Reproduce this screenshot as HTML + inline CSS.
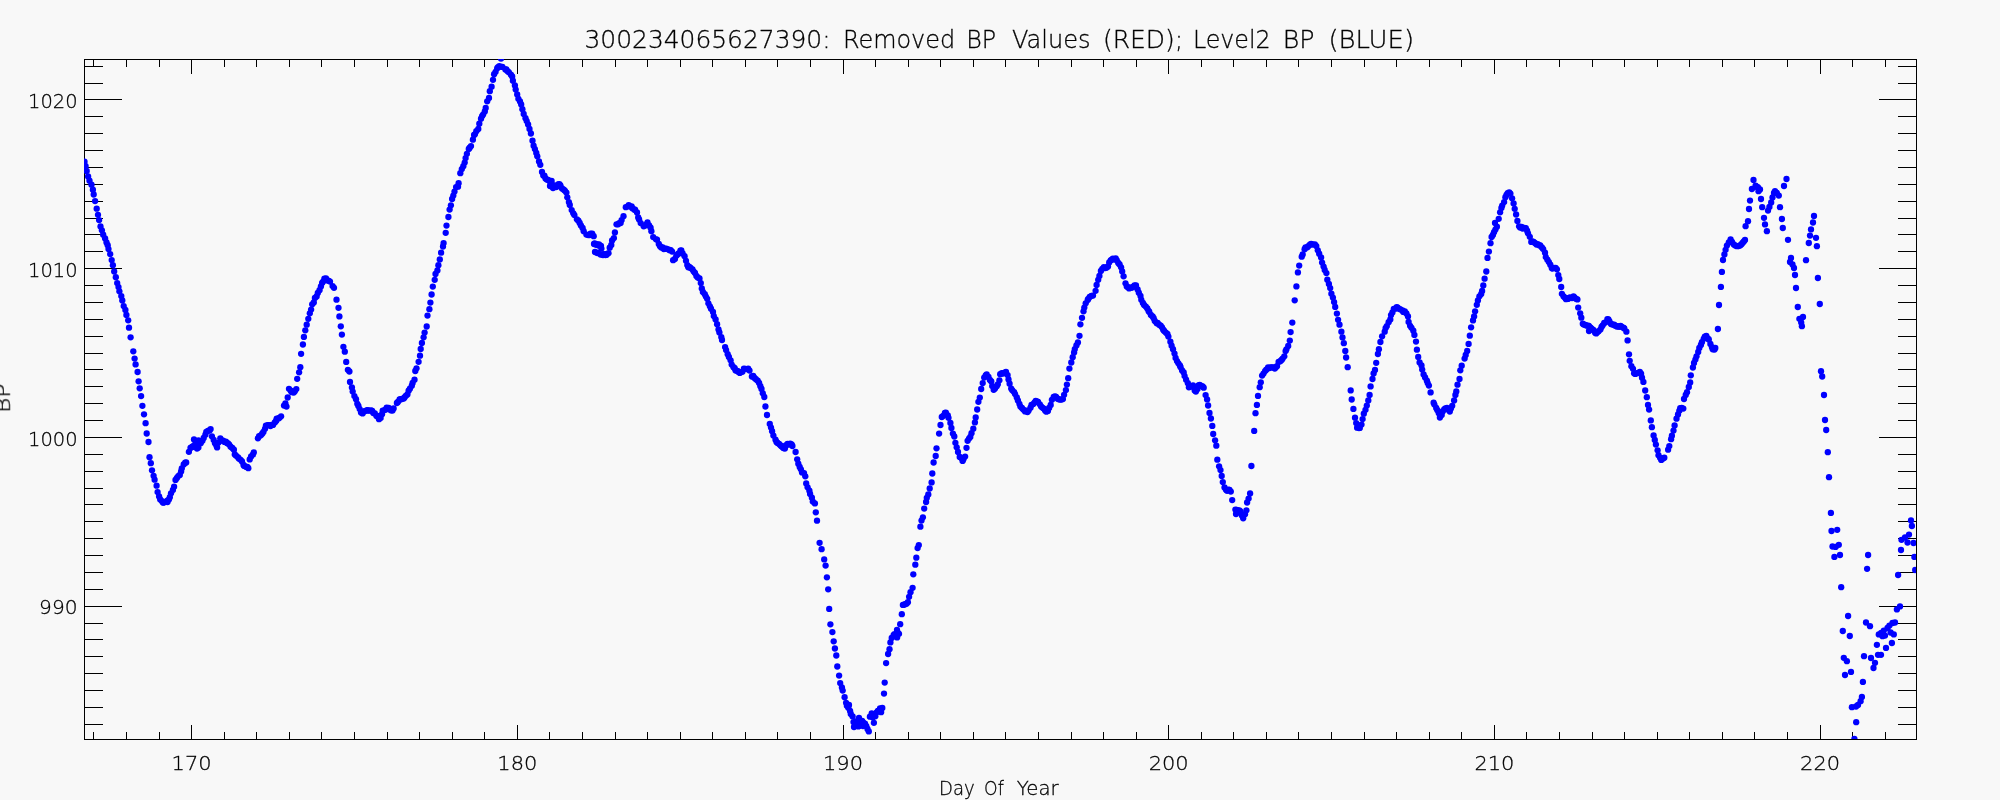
<!DOCTYPE html>
<html lang="en"><head><meta charset="utf-8"><title>300234065627390: Removed BP Values (RED); Level2 BP (BLUE)</title>
<style>
html,body{margin:0;padding:0;background:#f8f8f8;}
body{width:2000px;height:800px;overflow:hidden;}
svg{display:block;}
text{font-family:"DejaVu Sans","Liberation Sans",sans-serif;font-weight:200;fill:#000;stroke:#000;stroke-width:0.3px;}
.ax{stroke:#000;stroke-width:1;shape-rendering:crispEdges;fill:none;}
.d circle{fill:#0000ff;}
</style></head><body>
<svg width="2000" height="800" viewBox="0 0 2000 800">
<rect x="0" y="0" width="2000" height="800" fill="#f8f8f8"/>
<defs><clipPath id="c"><rect x="84" y="59" width="1832" height="680"/></clipPath></defs>
<path class="ax" d="M84.5 59.5H1916.5V739.5H84.5ZM93.5 740.0v-8M93.5 59.0v8M126.5 740.0v-8M126.5 59.0v8M159.5 740.0v-8M159.5 59.0v8M191.5 740.0v-15M191.5 59.0v15M224.5 740.0v-8M224.5 59.0v8M256.5 740.0v-8M256.5 59.0v8M289.5 740.0v-8M289.5 59.0v8M321.5 740.0v-8M321.5 59.0v8M354.5 740.0v-8M354.5 59.0v8M387.5 740.0v-8M387.5 59.0v8M419.5 740.0v-8M419.5 59.0v8M452.5 740.0v-8M452.5 59.0v8M484.5 740.0v-8M484.5 59.0v8M517.5 740.0v-15M517.5 59.0v15M549.5 740.0v-8M549.5 59.0v8M582.5 740.0v-8M582.5 59.0v8M615.5 740.0v-8M615.5 59.0v8M647.5 740.0v-8M647.5 59.0v8M680.5 740.0v-8M680.5 59.0v8M712.5 740.0v-8M712.5 59.0v8M745.5 740.0v-8M745.5 59.0v8M777.5 740.0v-8M777.5 59.0v8M810.5 740.0v-8M810.5 59.0v8M843.5 740.0v-15M843.5 59.0v15M875.5 740.0v-8M875.5 59.0v8M908.5 740.0v-8M908.5 59.0v8M940.5 740.0v-8M940.5 59.0v8M973.5 740.0v-8M973.5 59.0v8M1005.5 740.0v-8M1005.5 59.0v8M1038.5 740.0v-8M1038.5 59.0v8M1071.5 740.0v-8M1071.5 59.0v8M1103.5 740.0v-8M1103.5 59.0v8M1136.5 740.0v-8M1136.5 59.0v8M1168.5 740.0v-15M1168.5 59.0v15M1201.5 740.0v-8M1201.5 59.0v8M1233.5 740.0v-8M1233.5 59.0v8M1266.5 740.0v-8M1266.5 59.0v8M1298.5 740.0v-8M1298.5 59.0v8M1331.5 740.0v-8M1331.5 59.0v8M1364.5 740.0v-8M1364.5 59.0v8M1396.5 740.0v-8M1396.5 59.0v8M1429.5 740.0v-8M1429.5 59.0v8M1461.5 740.0v-8M1461.5 59.0v8M1494.5 740.0v-15M1494.5 59.0v15M1526.5 740.0v-8M1526.5 59.0v8M1559.5 740.0v-8M1559.5 59.0v8M1592.5 740.0v-8M1592.5 59.0v8M1624.5 740.0v-8M1624.5 59.0v8M1657.5 740.0v-8M1657.5 59.0v8M1689.5 740.0v-8M1689.5 59.0v8M1722.5 740.0v-8M1722.5 59.0v8M1754.5 740.0v-8M1754.5 59.0v8M1787.5 740.0v-8M1787.5 59.0v8M1820.5 740.0v-15M1820.5 59.0v15M1852.5 740.0v-8M1852.5 59.0v8M1885.5 740.0v-8M1885.5 59.0v8M84.0 724.5h19M1917.0 724.5h-19M84.0 707.5h19M1917.0 707.5h-19M84.0 690.5h19M1917.0 690.5h-19M84.0 673.5h19M1917.0 673.5h-19M84.0 656.5h19M1917.0 656.5h-19M84.0 639.5h19M1917.0 639.5h-19M84.0 623.5h19M1917.0 623.5h-19M84.0 606.5h38M1917.0 606.5h-38M84.0 589.5h19M1917.0 589.5h-19M84.0 572.5h19M1917.0 572.5h-19M84.0 555.5h19M1917.0 555.5h-19M84.0 538.5h19M1917.0 538.5h-19M84.0 521.5h19M1917.0 521.5h-19M84.0 504.5h19M1917.0 504.5h-19M84.0 488.5h19M1917.0 488.5h-19M84.0 471.5h19M1917.0 471.5h-19M84.0 454.5h19M1917.0 454.5h-19M84.0 437.5h38M1917.0 437.5h-38M84.0 420.5h19M1917.0 420.5h-19M84.0 403.5h19M1917.0 403.5h-19M84.0 386.5h19M1917.0 386.5h-19M84.0 369.5h19M1917.0 369.5h-19M84.0 353.5h19M1917.0 353.5h-19M84.0 336.5h19M1917.0 336.5h-19M84.0 319.5h19M1917.0 319.5h-19M84.0 302.5h19M1917.0 302.5h-19M84.0 285.5h19M1917.0 285.5h-19M84.0 268.5h38M1917.0 268.5h-38M84.0 251.5h19M1917.0 251.5h-19M84.0 234.5h19M1917.0 234.5h-19M84.0 218.5h19M1917.0 218.5h-19M84.0 201.5h19M1917.0 201.5h-19M84.0 184.5h19M1917.0 184.5h-19M84.0 167.5h19M1917.0 167.5h-19M84.0 150.5h19M1917.0 150.5h-19M84.0 133.5h19M1917.0 133.5h-19M84.0 116.5h19M1917.0 116.5h-19M84.0 99.5h38M1917.0 99.5h-38M84.0 83.5h19M1917.0 83.5h-19M84.0 66.5h19M1917.0 66.5h-19"/>
<g class="d" clip-path="url(#c)">
<circle cx="84.5" cy="161.7" r="3.15"/>
<circle cx="85.6" cy="166.1" r="3.15"/>
<circle cx="86.7" cy="171.0" r="3.15"/>
<circle cx="88.1" cy="176.4" r="3.15"/>
<circle cx="89.5" cy="180.7" r="3.15"/>
<circle cx="91.5" cy="184.7" r="3.15"/>
<circle cx="92.9" cy="189.7" r="3.15"/>
<circle cx="93.7" cy="194.5" r="3.15"/>
<circle cx="95.1" cy="201.1" r="3.15"/>
<circle cx="96.7" cy="208.7" r="3.15"/>
<circle cx="98.0" cy="214.8" r="3.15"/>
<circle cx="99.1" cy="220.1" r="3.15"/>
<circle cx="100.5" cy="226.4" r="3.15"/>
<circle cx="101.9" cy="230.3" r="3.15"/>
<circle cx="103.2" cy="234.7" r="3.15"/>
<circle cx="105.1" cy="238.4" r="3.15"/>
<circle cx="106.5" cy="242.5" r="3.15"/>
<circle cx="107.7" cy="245.2" r="3.15"/>
<circle cx="108.5" cy="249.1" r="3.15"/>
<circle cx="110.2" cy="254.1" r="3.15"/>
<circle cx="111.7" cy="260.1" r="3.15"/>
<circle cx="112.9" cy="265.2" r="3.15"/>
<circle cx="114.2" cy="271.5" r="3.15"/>
<circle cx="115.8" cy="277.2" r="3.15"/>
<circle cx="117.2" cy="283.1" r="3.15"/>
<circle cx="118.5" cy="287.1" r="3.15"/>
<circle cx="119.4" cy="291.3" r="3.15"/>
<circle cx="121.3" cy="296.1" r="3.15"/>
<circle cx="122.3" cy="300.5" r="3.15"/>
<circle cx="123.7" cy="306.1" r="3.15"/>
<circle cx="125.4" cy="310.0" r="3.15"/>
<circle cx="126.4" cy="314.9" r="3.15"/>
<circle cx="128.2" cy="320.3" r="3.15"/>
<circle cx="129.0" cy="327.7" r="3.15"/>
<circle cx="130.6" cy="337.3" r="3.15"/>
<circle cx="133.3" cy="351.3" r="3.15"/>
<circle cx="134.6" cy="358.6" r="3.15"/>
<circle cx="135.6" cy="364.4" r="3.15"/>
<circle cx="137.6" cy="372.0" r="3.15"/>
<circle cx="138.6" cy="381.3" r="3.15"/>
<circle cx="139.7" cy="388.3" r="3.15"/>
<circle cx="141.1" cy="396.1" r="3.15"/>
<circle cx="142.4" cy="405.8" r="3.15"/>
<circle cx="144.0" cy="414.3" r="3.15"/>
<circle cx="145.6" cy="423.2" r="3.15"/>
<circle cx="146.7" cy="433.5" r="3.15"/>
<circle cx="148.5" cy="442.0" r="3.15"/>
<circle cx="149.5" cy="457.2" r="3.15"/>
<circle cx="150.8" cy="463.2" r="3.15"/>
<circle cx="152.0" cy="470.3" r="3.15"/>
<circle cx="153.6" cy="475.8" r="3.15"/>
<circle cx="154.6" cy="479.7" r="3.15"/>
<circle cx="156.6" cy="485.7" r="3.15"/>
<circle cx="157.6" cy="492.1" r="3.15"/>
<circle cx="159.1" cy="496.5" r="3.15"/>
<circle cx="160.2" cy="499.4" r="3.15"/>
<circle cx="162.0" cy="501.2" r="3.15"/>
<circle cx="163.3" cy="502.4" r="3.15"/>
<circle cx="164.4" cy="502.3" r="3.15"/>
<circle cx="167.3" cy="500.6" r="3.15"/>
<circle cx="168.9" cy="499.6" r="3.15"/>
<circle cx="169.8" cy="497.2" r="3.15"/>
<circle cx="171.0" cy="493.3" r="3.15"/>
<circle cx="172.9" cy="489.9" r="3.15"/>
<circle cx="174.1" cy="486.7" r="3.15"/>
<circle cx="175.5" cy="479.9" r="3.15"/>
<circle cx="176.9" cy="477.9" r="3.15"/>
<circle cx="178.3" cy="476.1" r="3.15"/>
<circle cx="179.8" cy="474.9" r="3.15"/>
<circle cx="181.1" cy="471.4" r="3.15"/>
<circle cx="181.8" cy="468.3" r="3.15"/>
<circle cx="183.7" cy="464.5" r="3.15"/>
<circle cx="185.2" cy="462.7" r="3.15"/>
<circle cx="186.2" cy="462.5" r="3.15"/>
<circle cx="188.9" cy="451.8" r="3.15"/>
<circle cx="190.5" cy="447.8" r="3.15"/>
<circle cx="191.4" cy="447.4" r="3.15"/>
<circle cx="193.0" cy="446.3" r="3.15"/>
<circle cx="194.0" cy="446.0" r="3.15"/>
<circle cx="195.6" cy="441.7" r="3.15"/>
<circle cx="197.0" cy="442.2" r="3.15"/>
<circle cx="198.4" cy="447.6" r="3.15"/>
<circle cx="200.7" cy="443.2" r="3.15"/>
<circle cx="202.4" cy="440.8" r="3.15"/>
<circle cx="203.7" cy="437.9" r="3.15"/>
<circle cx="205.4" cy="434.7" r="3.15"/>
<circle cx="206.3" cy="431.8" r="3.15"/>
<circle cx="207.9" cy="431.0" r="3.15"/>
<circle cx="209.6" cy="430.4" r="3.15"/>
<circle cx="210.6" cy="429.1" r="3.15"/>
<circle cx="211.9" cy="436.3" r="3.15"/>
<circle cx="213.7" cy="440.0" r="3.15"/>
<circle cx="215.0" cy="443.3" r="3.15"/>
<circle cx="216.4" cy="445.4" r="3.15"/>
<circle cx="217.1" cy="447.4" r="3.15"/>
<circle cx="218.5" cy="442.6" r="3.15"/>
<circle cx="220.3" cy="438.3" r="3.15"/>
<circle cx="221.6" cy="440.4" r="3.15"/>
<circle cx="223.1" cy="440.7" r="3.15"/>
<circle cx="224.5" cy="441.9" r="3.15"/>
<circle cx="225.9" cy="441.6" r="3.15"/>
<circle cx="226.8" cy="443.0" r="3.15"/>
<circle cx="228.0" cy="443.3" r="3.15"/>
<circle cx="229.2" cy="444.6" r="3.15"/>
<circle cx="230.6" cy="446.7" r="3.15"/>
<circle cx="232.3" cy="447.9" r="3.15"/>
<circle cx="233.9" cy="449.7" r="3.15"/>
<circle cx="234.8" cy="454.4" r="3.15"/>
<circle cx="236.2" cy="455.8" r="3.15"/>
<circle cx="238.1" cy="457.3" r="3.15"/>
<circle cx="238.8" cy="458.6" r="3.15"/>
<circle cx="240.6" cy="459.8" r="3.15"/>
<circle cx="242.0" cy="461.5" r="3.15"/>
<circle cx="243.5" cy="464.9" r="3.15"/>
<circle cx="244.2" cy="465.9" r="3.15"/>
<circle cx="246.2" cy="466.9" r="3.15"/>
<circle cx="247.3" cy="466.8" r="3.15"/>
<circle cx="248.3" cy="468.2" r="3.15"/>
<circle cx="249.7" cy="459.4" r="3.15"/>
<circle cx="251.1" cy="456.4" r="3.15"/>
<circle cx="252.9" cy="454.6" r="3.15"/>
<circle cx="253.8" cy="452.5" r="3.15"/>
<circle cx="257.9" cy="438.3" r="3.15"/>
<circle cx="259.1" cy="436.2" r="3.15"/>
<circle cx="260.8" cy="435.3" r="3.15"/>
<circle cx="262.2" cy="433.7" r="3.15"/>
<circle cx="263.4" cy="431.9" r="3.15"/>
<circle cx="265.0" cy="428.8" r="3.15"/>
<circle cx="265.9" cy="425.7" r="3.15"/>
<circle cx="267.8" cy="425.1" r="3.15"/>
<circle cx="268.6" cy="425.1" r="3.15"/>
<circle cx="270.5" cy="426.0" r="3.15"/>
<circle cx="271.5" cy="424.8" r="3.15"/>
<circle cx="273.0" cy="424.9" r="3.15"/>
<circle cx="274.8" cy="422.5" r="3.15"/>
<circle cx="276.1" cy="421.0" r="3.15"/>
<circle cx="276.7" cy="418.6" r="3.15"/>
<circle cx="278.5" cy="418.4" r="3.15"/>
<circle cx="279.4" cy="417.8" r="3.15"/>
<circle cx="281.1" cy="416.3" r="3.15"/>
<circle cx="284.0" cy="405.6" r="3.15"/>
<circle cx="285.4" cy="403.5" r="3.15"/>
<circle cx="286.5" cy="406.6" r="3.15"/>
<circle cx="287.7" cy="397.5" r="3.15"/>
<circle cx="289.0" cy="388.8" r="3.15"/>
<circle cx="290.8" cy="390.7" r="3.15"/>
<circle cx="291.7" cy="392.2" r="3.15"/>
<circle cx="293.7" cy="392.5" r="3.15"/>
<circle cx="294.8" cy="391.2" r="3.15"/>
<circle cx="296.3" cy="389.1" r="3.15"/>
<circle cx="297.2" cy="378.8" r="3.15"/>
<circle cx="299.1" cy="372.3" r="3.15"/>
<circle cx="300.3" cy="367.2" r="3.15"/>
<circle cx="301.1" cy="353.8" r="3.15"/>
<circle cx="302.9" cy="344.5" r="3.15"/>
<circle cx="303.9" cy="336.9" r="3.15"/>
<circle cx="305.3" cy="330.3" r="3.15"/>
<circle cx="306.7" cy="324.7" r="3.15"/>
<circle cx="308.3" cy="318.8" r="3.15"/>
<circle cx="309.8" cy="313.3" r="3.15"/>
<circle cx="311.1" cy="309.6" r="3.15"/>
<circle cx="312.2" cy="304.3" r="3.15"/>
<circle cx="313.8" cy="302.4" r="3.15"/>
<circle cx="314.9" cy="297.9" r="3.15"/>
<circle cx="316.6" cy="296.4" r="3.15"/>
<circle cx="317.8" cy="293.0" r="3.15"/>
<circle cx="319.5" cy="290.2" r="3.15"/>
<circle cx="320.9" cy="286.5" r="3.15"/>
<circle cx="322.1" cy="282.9" r="3.15"/>
<circle cx="323.1" cy="281.6" r="3.15"/>
<circle cx="324.4" cy="278.6" r="3.15"/>
<circle cx="326.0" cy="278.5" r="3.15"/>
<circle cx="327.6" cy="280.4" r="3.15"/>
<circle cx="328.8" cy="280.8" r="3.15"/>
<circle cx="330.0" cy="281.6" r="3.15"/>
<circle cx="332.6" cy="286.1" r="3.15"/>
<circle cx="334.0" cy="287.8" r="3.15"/>
<circle cx="336.5" cy="299.7" r="3.15"/>
<circle cx="338.5" cy="307.8" r="3.15"/>
<circle cx="339.4" cy="316.4" r="3.15"/>
<circle cx="340.8" cy="326.3" r="3.15"/>
<circle cx="341.9" cy="334.6" r="3.15"/>
<circle cx="343.4" cy="346.8" r="3.15"/>
<circle cx="344.8" cy="351.7" r="3.15"/>
<circle cx="346.2" cy="361.9" r="3.15"/>
<circle cx="347.9" cy="369.8" r="3.15"/>
<circle cx="349.4" cy="371.5" r="3.15"/>
<circle cx="350.0" cy="382.0" r="3.15"/>
<circle cx="351.9" cy="387.5" r="3.15"/>
<circle cx="352.7" cy="391.6" r="3.15"/>
<circle cx="354.4" cy="396.1" r="3.15"/>
<circle cx="356.0" cy="399.2" r="3.15"/>
<circle cx="357.3" cy="403.8" r="3.15"/>
<circle cx="358.4" cy="406.0" r="3.15"/>
<circle cx="359.7" cy="409.1" r="3.15"/>
<circle cx="361.0" cy="412.6" r="3.15"/>
<circle cx="362.6" cy="413.4" r="3.15"/>
<circle cx="363.6" cy="411.4" r="3.15"/>
<circle cx="365.1" cy="411.1" r="3.15"/>
<circle cx="367.0" cy="410.2" r="3.15"/>
<circle cx="368.0" cy="410.5" r="3.15"/>
<circle cx="369.3" cy="410.6" r="3.15"/>
<circle cx="371.1" cy="410.3" r="3.15"/>
<circle cx="372.2" cy="411.0" r="3.15"/>
<circle cx="373.3" cy="413.1" r="3.15"/>
<circle cx="374.8" cy="413.4" r="3.15"/>
<circle cx="376.5" cy="416.0" r="3.15"/>
<circle cx="377.7" cy="415.8" r="3.15"/>
<circle cx="379.0" cy="419.2" r="3.15"/>
<circle cx="380.6" cy="418.1" r="3.15"/>
<circle cx="382.0" cy="414.2" r="3.15"/>
<circle cx="382.7" cy="410.7" r="3.15"/>
<circle cx="384.7" cy="410.1" r="3.15"/>
<circle cx="385.9" cy="409.3" r="3.15"/>
<circle cx="386.7" cy="407.7" r="3.15"/>
<circle cx="388.7" cy="408.0" r="3.15"/>
<circle cx="389.4" cy="409.4" r="3.15"/>
<circle cx="391.3" cy="410.4" r="3.15"/>
<circle cx="392.5" cy="410.4" r="3.15"/>
<circle cx="393.6" cy="408.5" r="3.15"/>
<circle cx="396.9" cy="403.0" r="3.15"/>
<circle cx="397.9" cy="401.9" r="3.15"/>
<circle cx="399.6" cy="399.5" r="3.15"/>
<circle cx="400.2" cy="399.4" r="3.15"/>
<circle cx="401.9" cy="399.0" r="3.15"/>
<circle cx="403.7" cy="398.6" r="3.15"/>
<circle cx="404.5" cy="397.5" r="3.15"/>
<circle cx="405.8" cy="395.8" r="3.15"/>
<circle cx="407.4" cy="394.5" r="3.15"/>
<circle cx="408.6" cy="390.7" r="3.15"/>
<circle cx="409.9" cy="388.7" r="3.15"/>
<circle cx="411.8" cy="385.7" r="3.15"/>
<circle cx="412.6" cy="383.0" r="3.15"/>
<circle cx="414.5" cy="379.7" r="3.15"/>
<circle cx="415.3" cy="371.0" r="3.15"/>
<circle cx="416.5" cy="368.3" r="3.15"/>
<circle cx="418.6" cy="361.8" r="3.15"/>
<circle cx="420.0" cy="355.7" r="3.15"/>
<circle cx="420.7" cy="349.0" r="3.15"/>
<circle cx="421.9" cy="342.9" r="3.15"/>
<circle cx="423.6" cy="337.3" r="3.15"/>
<circle cx="424.6" cy="332.6" r="3.15"/>
<circle cx="426.7" cy="326.5" r="3.15"/>
<circle cx="427.5" cy="315.6" r="3.15"/>
<circle cx="429.4" cy="309.2" r="3.15"/>
<circle cx="430.4" cy="302.6" r="3.15"/>
<circle cx="431.6" cy="294.5" r="3.15"/>
<circle cx="432.8" cy="286.6" r="3.15"/>
<circle cx="434.7" cy="279.8" r="3.15"/>
<circle cx="435.5" cy="274.0" r="3.15"/>
<circle cx="437.4" cy="270.4" r="3.15"/>
<circle cx="438.4" cy="265.2" r="3.15"/>
<circle cx="439.8" cy="259.4" r="3.15"/>
<circle cx="441.1" cy="252.7" r="3.15"/>
<circle cx="443.0" cy="246.5" r="3.15"/>
<circle cx="443.6" cy="243.1" r="3.15"/>
<circle cx="445.7" cy="232.8" r="3.15"/>
<circle cx="446.5" cy="225.6" r="3.15"/>
<circle cx="448.4" cy="217.0" r="3.15"/>
<circle cx="449.6" cy="209.6" r="3.15"/>
<circle cx="450.9" cy="205.3" r="3.15"/>
<circle cx="452.1" cy="199.0" r="3.15"/>
<circle cx="453.3" cy="195.6" r="3.15"/>
<circle cx="454.5" cy="191.6" r="3.15"/>
<circle cx="456.1" cy="187.1" r="3.15"/>
<circle cx="458.0" cy="186.7" r="3.15"/>
<circle cx="458.6" cy="183.2" r="3.15"/>
<circle cx="460.3" cy="173.2" r="3.15"/>
<circle cx="461.8" cy="169.1" r="3.15"/>
<circle cx="463.3" cy="166.2" r="3.15"/>
<circle cx="464.7" cy="162.6" r="3.15"/>
<circle cx="465.6" cy="158.1" r="3.15"/>
<circle cx="466.9" cy="153.8" r="3.15"/>
<circle cx="468.8" cy="148.9" r="3.15"/>
<circle cx="469.7" cy="147.7" r="3.15"/>
<circle cx="471.0" cy="146.1" r="3.15"/>
<circle cx="472.9" cy="139.7" r="3.15"/>
<circle cx="474.1" cy="135.0" r="3.15"/>
<circle cx="474.9" cy="134.3" r="3.15"/>
<circle cx="476.3" cy="131.2" r="3.15"/>
<circle cx="478.3" cy="129.0" r="3.15"/>
<circle cx="479.3" cy="123.7" r="3.15"/>
<circle cx="481.0" cy="118.7" r="3.15"/>
<circle cx="482.1" cy="116.1" r="3.15"/>
<circle cx="483.1" cy="114.6" r="3.15"/>
<circle cx="484.8" cy="111.5" r="3.15"/>
<circle cx="485.7" cy="107.9" r="3.15"/>
<circle cx="487.2" cy="101.3" r="3.15"/>
<circle cx="489.0" cy="97.9" r="3.15"/>
<circle cx="489.8" cy="91.2" r="3.15"/>
<circle cx="491.6" cy="86.7" r="3.15"/>
<circle cx="493.0" cy="79.8" r="3.15"/>
<circle cx="494.1" cy="74.2" r="3.15"/>
<circle cx="495.6" cy="71.8" r="3.15"/>
<circle cx="497.2" cy="68.2" r="3.15"/>
<circle cx="498.1" cy="67.2" r="3.15"/>
<circle cx="499.3" cy="66.1" r="3.15"/>
<circle cx="501.3" cy="66.8" r="3.15"/>
<circle cx="502.4" cy="66.8" r="3.15"/>
<circle cx="505.4" cy="69.4" r="3.15"/>
<circle cx="506.3" cy="69.5" r="3.15"/>
<circle cx="507.6" cy="71.2" r="3.15"/>
<circle cx="508.9" cy="72.3" r="3.15"/>
<circle cx="510.9" cy="74.7" r="3.15"/>
<circle cx="512.2" cy="76.5" r="3.15"/>
<circle cx="512.9" cy="80.7" r="3.15"/>
<circle cx="514.9" cy="85.4" r="3.15"/>
<circle cx="515.7" cy="89.6" r="3.15"/>
<circle cx="517.2" cy="94.5" r="3.15"/>
<circle cx="518.4" cy="98.8" r="3.15"/>
<circle cx="520.0" cy="101.4" r="3.15"/>
<circle cx="521.2" cy="104.5" r="3.15"/>
<circle cx="522.4" cy="109.2" r="3.15"/>
<circle cx="523.7" cy="114.0" r="3.15"/>
<circle cx="525.5" cy="118.2" r="3.15"/>
<circle cx="526.7" cy="121.1" r="3.15"/>
<circle cx="528.1" cy="124.5" r="3.15"/>
<circle cx="529.5" cy="128.9" r="3.15"/>
<circle cx="530.9" cy="133.5" r="3.15"/>
<circle cx="532.5" cy="140.7" r="3.15"/>
<circle cx="533.6" cy="145.7" r="3.15"/>
<circle cx="534.9" cy="149.1" r="3.15"/>
<circle cx="536.3" cy="153.0" r="3.15"/>
<circle cx="537.3" cy="156.3" r="3.15"/>
<circle cx="539.0" cy="161.4" r="3.15"/>
<circle cx="540.3" cy="164.8" r="3.15"/>
<circle cx="542.0" cy="172.0" r="3.15"/>
<circle cx="543.3" cy="175.6" r="3.15"/>
<circle cx="544.4" cy="175.6" r="3.15"/>
<circle cx="545.5" cy="178.5" r="3.15"/>
<circle cx="546.8" cy="179.6" r="3.15"/>
<circle cx="548.2" cy="180.0" r="3.15"/>
<circle cx="550.1" cy="181.7" r="3.15"/>
<circle cx="551.6" cy="181.0" r="3.15"/>
<circle cx="552.6" cy="185.0" r="3.15"/>
<circle cx="553.7" cy="187.1" r="3.15"/>
<circle cx="555.5" cy="186.1" r="3.15"/>
<circle cx="556.9" cy="186.6" r="3.15"/>
<circle cx="558.1" cy="184.4" r="3.15"/>
<circle cx="559.4" cy="184.1" r="3.15"/>
<circle cx="560.4" cy="185.4" r="3.15"/>
<circle cx="562.0" cy="188.4" r="3.15"/>
<circle cx="563.8" cy="189.7" r="3.15"/>
<circle cx="565.0" cy="190.8" r="3.15"/>
<circle cx="566.4" cy="192.6" r="3.15"/>
<circle cx="567.3" cy="197.3" r="3.15"/>
<circle cx="568.9" cy="202.1" r="3.15"/>
<circle cx="569.8" cy="205.0" r="3.15"/>
<circle cx="571.7" cy="210.1" r="3.15"/>
<circle cx="573.3" cy="213.3" r="3.15"/>
<circle cx="574.4" cy="215.1" r="3.15"/>
<circle cx="576.9" cy="219.3" r="3.15"/>
<circle cx="578.4" cy="220.7" r="3.15"/>
<circle cx="579.7" cy="222.9" r="3.15"/>
<circle cx="580.9" cy="225.5" r="3.15"/>
<circle cx="582.6" cy="228.0" r="3.15"/>
<circle cx="583.7" cy="231.2" r="3.15"/>
<circle cx="586.4" cy="234.6" r="3.15"/>
<circle cx="588.2" cy="235.1" r="3.15"/>
<circle cx="589.6" cy="235.0" r="3.15"/>
<circle cx="590.5" cy="233.6" r="3.15"/>
<circle cx="592.2" cy="233.7" r="3.15"/>
<circle cx="593.7" cy="236.2" r="3.15"/>
<circle cx="594.7" cy="243.5" r="3.15"/>
<circle cx="596.3" cy="244.6" r="3.15"/>
<circle cx="597.2" cy="244.4" r="3.15"/>
<circle cx="599.0" cy="244.5" r="3.15"/>
<circle cx="601.4" cy="248.6" r="3.15"/>
<circle cx="602.6" cy="254.6" r="3.15"/>
<circle cx="603.8" cy="254.1" r="3.15"/>
<circle cx="605.7" cy="254.2" r="3.15"/>
<circle cx="606.7" cy="254.8" r="3.15"/>
<circle cx="608.5" cy="253.2" r="3.15"/>
<circle cx="609.7" cy="247.7" r="3.15"/>
<circle cx="611.3" cy="244.9" r="3.15"/>
<circle cx="612.1" cy="240.5" r="3.15"/>
<circle cx="613.9" cy="238.1" r="3.15"/>
<circle cx="614.9" cy="232.5" r="3.15"/>
<circle cx="616.5" cy="224.3" r="3.15"/>
<circle cx="618.1" cy="224.3" r="3.15"/>
<circle cx="619.2" cy="223.1" r="3.15"/>
<circle cx="620.6" cy="223.0" r="3.15"/>
<circle cx="621.6" cy="220.1" r="3.15"/>
<circle cx="623.5" cy="216.2" r="3.15"/>
<circle cx="625.8" cy="207.2" r="3.15"/>
<circle cx="628.7" cy="205.2" r="3.15"/>
<circle cx="629.6" cy="206.4" r="3.15"/>
<circle cx="631.6" cy="206.5" r="3.15"/>
<circle cx="632.3" cy="208.2" r="3.15"/>
<circle cx="634.4" cy="209.7" r="3.15"/>
<circle cx="635.1" cy="209.7" r="3.15"/>
<circle cx="637.0" cy="212.4" r="3.15"/>
<circle cx="638.2" cy="217.4" r="3.15"/>
<circle cx="639.1" cy="219.5" r="3.15"/>
<circle cx="640.7" cy="223.1" r="3.15"/>
<circle cx="643.7" cy="226.3" r="3.15"/>
<circle cx="645.2" cy="225.4" r="3.15"/>
<circle cx="646.3" cy="224.5" r="3.15"/>
<circle cx="647.5" cy="222.5" r="3.15"/>
<circle cx="649.1" cy="225.4" r="3.15"/>
<circle cx="650.6" cy="227.7" r="3.15"/>
<circle cx="651.4" cy="231.2" r="3.15"/>
<circle cx="653.2" cy="237.1" r="3.15"/>
<circle cx="656.0" cy="239.3" r="3.15"/>
<circle cx="657.0" cy="239.6" r="3.15"/>
<circle cx="658.8" cy="244.0" r="3.15"/>
<circle cx="660.0" cy="246.2" r="3.15"/>
<circle cx="661.3" cy="247.5" r="3.15"/>
<circle cx="662.7" cy="247.3" r="3.15"/>
<circle cx="663.8" cy="249.1" r="3.15"/>
<circle cx="665.5" cy="248.9" r="3.15"/>
<circle cx="666.2" cy="248.7" r="3.15"/>
<circle cx="668.3" cy="249.3" r="3.15"/>
<circle cx="669.6" cy="250.2" r="3.15"/>
<circle cx="670.7" cy="250.1" r="3.15"/>
<circle cx="672.1" cy="251.6" r="3.15"/>
<circle cx="673.1" cy="260.2" r="3.15"/>
<circle cx="674.9" cy="259.0" r="3.15"/>
<circle cx="676.3" cy="255.8" r="3.15"/>
<circle cx="677.4" cy="254.6" r="3.15"/>
<circle cx="678.6" cy="253.4" r="3.15"/>
<circle cx="680.4" cy="250.7" r="3.15"/>
<circle cx="681.3" cy="250.4" r="3.15"/>
<circle cx="682.6" cy="253.4" r="3.15"/>
<circle cx="684.6" cy="256.2" r="3.15"/>
<circle cx="686.0" cy="260.8" r="3.15"/>
<circle cx="687.3" cy="265.1" r="3.15"/>
<circle cx="688.3" cy="267.3" r="3.15"/>
<circle cx="689.3" cy="267.0" r="3.15"/>
<circle cx="690.6" cy="267.9" r="3.15"/>
<circle cx="692.5" cy="269.4" r="3.15"/>
<circle cx="693.7" cy="271.6" r="3.15"/>
<circle cx="695.0" cy="273.0" r="3.15"/>
<circle cx="696.4" cy="276.0" r="3.15"/>
<circle cx="697.7" cy="277.4" r="3.15"/>
<circle cx="699.5" cy="278.5" r="3.15"/>
<circle cx="700.8" cy="283.1" r="3.15"/>
<circle cx="701.8" cy="288.4" r="3.15"/>
<circle cx="702.9" cy="292.0" r="3.15"/>
<circle cx="704.8" cy="294.2" r="3.15"/>
<circle cx="705.9" cy="296.6" r="3.15"/>
<circle cx="707.2" cy="298.8" r="3.15"/>
<circle cx="708.4" cy="303.3" r="3.15"/>
<circle cx="709.9" cy="306.3" r="3.15"/>
<circle cx="711.0" cy="308.7" r="3.15"/>
<circle cx="713.0" cy="311.9" r="3.15"/>
<circle cx="713.8" cy="316.1" r="3.15"/>
<circle cx="715.6" cy="319.5" r="3.15"/>
<circle cx="717.1" cy="324.2" r="3.15"/>
<circle cx="718.5" cy="329.5" r="3.15"/>
<circle cx="719.4" cy="332.5" r="3.15"/>
<circle cx="721.3" cy="337.1" r="3.15"/>
<circle cx="722.0" cy="340.0" r="3.15"/>
<circle cx="725.1" cy="347.1" r="3.15"/>
<circle cx="726.1" cy="350.1" r="3.15"/>
<circle cx="727.7" cy="354.2" r="3.15"/>
<circle cx="728.9" cy="356.9" r="3.15"/>
<circle cx="730.6" cy="360.3" r="3.15"/>
<circle cx="731.7" cy="364.6" r="3.15"/>
<circle cx="733.5" cy="367.2" r="3.15"/>
<circle cx="734.7" cy="368.2" r="3.15"/>
<circle cx="735.6" cy="370.4" r="3.15"/>
<circle cx="737.4" cy="371.0" r="3.15"/>
<circle cx="738.3" cy="371.7" r="3.15"/>
<circle cx="739.8" cy="372.9" r="3.15"/>
<circle cx="742.4" cy="371.8" r="3.15"/>
<circle cx="743.9" cy="368.7" r="3.15"/>
<circle cx="745.2" cy="368.9" r="3.15"/>
<circle cx="746.3" cy="369.1" r="3.15"/>
<circle cx="748.2" cy="368.6" r="3.15"/>
<circle cx="749.5" cy="370.6" r="3.15"/>
<circle cx="751.9" cy="376.5" r="3.15"/>
<circle cx="753.2" cy="375.9" r="3.15"/>
<circle cx="754.5" cy="378.0" r="3.15"/>
<circle cx="755.9" cy="379.2" r="3.15"/>
<circle cx="757.7" cy="380.7" r="3.15"/>
<circle cx="759.1" cy="383.0" r="3.15"/>
<circle cx="760.4" cy="386.2" r="3.15"/>
<circle cx="761.5" cy="389.0" r="3.15"/>
<circle cx="762.8" cy="393.3" r="3.15"/>
<circle cx="764.3" cy="397.0" r="3.15"/>
<circle cx="765.4" cy="406.5" r="3.15"/>
<circle cx="767.0" cy="415.0" r="3.15"/>
<circle cx="769.8" cy="423.9" r="3.15"/>
<circle cx="771.0" cy="427.6" r="3.15"/>
<circle cx="772.1" cy="431.2" r="3.15"/>
<circle cx="773.4" cy="435.6" r="3.15"/>
<circle cx="775.5" cy="439.7" r="3.15"/>
<circle cx="776.5" cy="442.0" r="3.15"/>
<circle cx="777.5" cy="442.9" r="3.15"/>
<circle cx="779.1" cy="444.0" r="3.15"/>
<circle cx="780.6" cy="445.4" r="3.15"/>
<circle cx="781.7" cy="446.5" r="3.15"/>
<circle cx="783.3" cy="448.0" r="3.15"/>
<circle cx="784.9" cy="448.5" r="3.15"/>
<circle cx="785.8" cy="445.5" r="3.15"/>
<circle cx="787.5" cy="444.0" r="3.15"/>
<circle cx="788.6" cy="444.5" r="3.15"/>
<circle cx="790.2" cy="443.6" r="3.15"/>
<circle cx="791.6" cy="444.5" r="3.15"/>
<circle cx="792.4" cy="446.0" r="3.15"/>
<circle cx="795.6" cy="452.0" r="3.15"/>
<circle cx="797.2" cy="459.3" r="3.15"/>
<circle cx="798.3" cy="463.7" r="3.15"/>
<circle cx="799.7" cy="467.0" r="3.15"/>
<circle cx="800.9" cy="469.3" r="3.15"/>
<circle cx="802.0" cy="472.4" r="3.15"/>
<circle cx="804.0" cy="473.1" r="3.15"/>
<circle cx="805.3" cy="476.3" r="3.15"/>
<circle cx="806.2" cy="483.4" r="3.15"/>
<circle cx="807.6" cy="487.3" r="3.15"/>
<circle cx="809.4" cy="490.7" r="3.15"/>
<circle cx="810.1" cy="494.0" r="3.15"/>
<circle cx="811.9" cy="497.7" r="3.15"/>
<circle cx="812.8" cy="501.6" r="3.15"/>
<circle cx="814.9" cy="503.4" r="3.15"/>
<circle cx="815.8" cy="512.3" r="3.15"/>
<circle cx="817.0" cy="520.7" r="3.15"/>
<circle cx="819.6" cy="542.8" r="3.15"/>
<circle cx="821.6" cy="549.2" r="3.15"/>
<circle cx="824.2" cy="559.4" r="3.15"/>
<circle cx="825.6" cy="565.6" r="3.15"/>
<circle cx="826.9" cy="577.3" r="3.15"/>
<circle cx="828.2" cy="589.3" r="3.15"/>
<circle cx="829.2" cy="608.9" r="3.15"/>
<circle cx="830.4" cy="624.3" r="3.15"/>
<circle cx="832.4" cy="632.1" r="3.15"/>
<circle cx="833.7" cy="641.3" r="3.15"/>
<circle cx="834.9" cy="648.5" r="3.15"/>
<circle cx="836.3" cy="655.5" r="3.15"/>
<circle cx="837.3" cy="666.5" r="3.15"/>
<circle cx="839.1" cy="675.6" r="3.15"/>
<circle cx="840.2" cy="683.1" r="3.15"/>
<circle cx="841.9" cy="687.5" r="3.15"/>
<circle cx="842.7" cy="690.6" r="3.15"/>
<circle cx="844.6" cy="697.2" r="3.15"/>
<circle cx="846.1" cy="702.8" r="3.15"/>
<circle cx="846.9" cy="705.8" r="3.15"/>
<circle cx="848.3" cy="707.7" r="3.15"/>
<circle cx="850.1" cy="710.9" r="3.15"/>
<circle cx="850.8" cy="713.9" r="3.15"/>
<circle cx="852.6" cy="716.4" r="3.15"/>
<circle cx="853.5" cy="722.1" r="3.15"/>
<circle cx="855.5" cy="721.4" r="3.15"/>
<circle cx="856.9" cy="721.9" r="3.15"/>
<circle cx="858.3" cy="726.4" r="3.15"/>
<circle cx="859.3" cy="725.7" r="3.15"/>
<circle cx="860.9" cy="724.6" r="3.15"/>
<circle cx="862.1" cy="720.8" r="3.15"/>
<circle cx="863.1" cy="722.4" r="3.15"/>
<circle cx="865.0" cy="723.6" r="3.15"/>
<circle cx="866.3" cy="726.1" r="3.15"/>
<circle cx="867.5" cy="728.9" r="3.15"/>
<circle cx="868.8" cy="731.4" r="3.15"/>
<circle cx="869.9" cy="716.7" r="3.15"/>
<circle cx="871.7" cy="713.4" r="3.15"/>
<circle cx="872.8" cy="717.5" r="3.15"/>
<circle cx="873.9" cy="722.8" r="3.15"/>
<circle cx="875.3" cy="716.2" r="3.15"/>
<circle cx="876.7" cy="712.3" r="3.15"/>
<circle cx="878.3" cy="710.9" r="3.15"/>
<circle cx="880.0" cy="708.5" r="3.15"/>
<circle cx="881.1" cy="712.2" r="3.15"/>
<circle cx="882.3" cy="707.9" r="3.15"/>
<circle cx="884.0" cy="693.6" r="3.15"/>
<circle cx="884.7" cy="682.6" r="3.15"/>
<circle cx="886.1" cy="663.1" r="3.15"/>
<circle cx="888.1" cy="654.0" r="3.15"/>
<circle cx="889.5" cy="649.2" r="3.15"/>
<circle cx="890.4" cy="642.4" r="3.15"/>
<circle cx="891.7" cy="638.0" r="3.15"/>
<circle cx="893.6" cy="635.2" r="3.15"/>
<circle cx="894.5" cy="634.2" r="3.15"/>
<circle cx="896.3" cy="635.3" r="3.15"/>
<circle cx="897.1" cy="637.4" r="3.15"/>
<circle cx="899.0" cy="633.8" r="3.15"/>
<circle cx="900.2" cy="624.2" r="3.15"/>
<circle cx="901.8" cy="614.2" r="3.15"/>
<circle cx="902.9" cy="604.9" r="3.15"/>
<circle cx="903.9" cy="604.8" r="3.15"/>
<circle cx="905.1" cy="604.2" r="3.15"/>
<circle cx="906.5" cy="603.7" r="3.15"/>
<circle cx="907.9" cy="602.2" r="3.15"/>
<circle cx="909.1" cy="596.8" r="3.15"/>
<circle cx="910.5" cy="592.2" r="3.15"/>
<circle cx="912.6" cy="587.8" r="3.15"/>
<circle cx="913.3" cy="574.3" r="3.15"/>
<circle cx="915.3" cy="564.7" r="3.15"/>
<circle cx="916.3" cy="557.7" r="3.15"/>
<circle cx="917.6" cy="548.1" r="3.15"/>
<circle cx="918.8" cy="545.1" r="3.15"/>
<circle cx="920.4" cy="526.7" r="3.15"/>
<circle cx="921.5" cy="520.6" r="3.15"/>
<circle cx="922.9" cy="517.3" r="3.15"/>
<circle cx="924.2" cy="508.6" r="3.15"/>
<circle cx="926.1" cy="502.0" r="3.15"/>
<circle cx="926.8" cy="497.8" r="3.15"/>
<circle cx="928.3" cy="494.4" r="3.15"/>
<circle cx="929.7" cy="488.5" r="3.15"/>
<circle cx="931.6" cy="482.4" r="3.15"/>
<circle cx="932.3" cy="473.5" r="3.15"/>
<circle cx="933.6" cy="462.5" r="3.15"/>
<circle cx="935.7" cy="456.0" r="3.15"/>
<circle cx="936.5" cy="448.3" r="3.15"/>
<circle cx="939.1" cy="433.6" r="3.15"/>
<circle cx="940.5" cy="425.0" r="3.15"/>
<circle cx="941.8" cy="417.0" r="3.15"/>
<circle cx="943.2" cy="415.8" r="3.15"/>
<circle cx="944.9" cy="413.0" r="3.15"/>
<circle cx="945.9" cy="412.7" r="3.15"/>
<circle cx="947.8" cy="415.4" r="3.15"/>
<circle cx="948.5" cy="417.8" r="3.15"/>
<circle cx="950.4" cy="423.0" r="3.15"/>
<circle cx="951.4" cy="428.0" r="3.15"/>
<circle cx="952.9" cy="433.6" r="3.15"/>
<circle cx="954.3" cy="436.5" r="3.15"/>
<circle cx="955.4" cy="442.8" r="3.15"/>
<circle cx="956.7" cy="447.3" r="3.15"/>
<circle cx="958.0" cy="451.9" r="3.15"/>
<circle cx="959.7" cy="456.9" r="3.15"/>
<circle cx="961.3" cy="457.9" r="3.15"/>
<circle cx="962.6" cy="460.9" r="3.15"/>
<circle cx="963.4" cy="459.2" r="3.15"/>
<circle cx="965.1" cy="456.6" r="3.15"/>
<circle cx="966.5" cy="447.8" r="3.15"/>
<circle cx="967.6" cy="440.8" r="3.15"/>
<circle cx="969.0" cy="438.6" r="3.15"/>
<circle cx="970.3" cy="437.0" r="3.15"/>
<circle cx="971.5" cy="433.2" r="3.15"/>
<circle cx="973.3" cy="428.7" r="3.15"/>
<circle cx="974.9" cy="422.4" r="3.15"/>
<circle cx="975.7" cy="417.4" r="3.15"/>
<circle cx="977.2" cy="409.5" r="3.15"/>
<circle cx="978.4" cy="401.8" r="3.15"/>
<circle cx="979.8" cy="397.6" r="3.15"/>
<circle cx="981.2" cy="389.0" r="3.15"/>
<circle cx="982.7" cy="383.1" r="3.15"/>
<circle cx="984.2" cy="377.6" r="3.15"/>
<circle cx="985.7" cy="375.3" r="3.15"/>
<circle cx="986.7" cy="374.5" r="3.15"/>
<circle cx="988.5" cy="376.9" r="3.15"/>
<circle cx="989.9" cy="380.0" r="3.15"/>
<circle cx="991.3" cy="381.4" r="3.15"/>
<circle cx="992.2" cy="386.1" r="3.15"/>
<circle cx="993.7" cy="389.8" r="3.15"/>
<circle cx="995.0" cy="388.6" r="3.15"/>
<circle cx="996.7" cy="386.2" r="3.15"/>
<circle cx="997.8" cy="384.3" r="3.15"/>
<circle cx="999.4" cy="380.3" r="3.15"/>
<circle cx="1000.2" cy="374.2" r="3.15"/>
<circle cx="1001.8" cy="373.2" r="3.15"/>
<circle cx="1002.9" cy="373.5" r="3.15"/>
<circle cx="1004.9" cy="372.6" r="3.15"/>
<circle cx="1006.0" cy="372.0" r="3.15"/>
<circle cx="1007.6" cy="375.1" r="3.15"/>
<circle cx="1008.5" cy="379.5" r="3.15"/>
<circle cx="1009.6" cy="383.7" r="3.15"/>
<circle cx="1011.2" cy="388.6" r="3.15"/>
<circle cx="1012.3" cy="390.3" r="3.15"/>
<circle cx="1014.1" cy="392.1" r="3.15"/>
<circle cx="1015.1" cy="394.0" r="3.15"/>
<circle cx="1016.8" cy="397.4" r="3.15"/>
<circle cx="1017.9" cy="400.4" r="3.15"/>
<circle cx="1019.4" cy="403.8" r="3.15"/>
<circle cx="1020.4" cy="406.6" r="3.15"/>
<circle cx="1021.9" cy="407.9" r="3.15"/>
<circle cx="1023.3" cy="409.6" r="3.15"/>
<circle cx="1025.1" cy="411.4" r="3.15"/>
<circle cx="1026.5" cy="410.7" r="3.15"/>
<circle cx="1027.5" cy="412.0" r="3.15"/>
<circle cx="1028.6" cy="410.6" r="3.15"/>
<circle cx="1030.5" cy="407.7" r="3.15"/>
<circle cx="1031.5" cy="405.0" r="3.15"/>
<circle cx="1033.3" cy="404.1" r="3.15"/>
<circle cx="1034.5" cy="402.6" r="3.15"/>
<circle cx="1035.7" cy="400.8" r="3.15"/>
<circle cx="1037.4" cy="401.6" r="3.15"/>
<circle cx="1038.0" cy="401.8" r="3.15"/>
<circle cx="1039.8" cy="404.3" r="3.15"/>
<circle cx="1041.1" cy="406.4" r="3.15"/>
<circle cx="1042.6" cy="407.8" r="3.15"/>
<circle cx="1043.8" cy="408.6" r="3.15"/>
<circle cx="1045.1" cy="410.6" r="3.15"/>
<circle cx="1046.4" cy="411.7" r="3.15"/>
<circle cx="1047.9" cy="410.9" r="3.15"/>
<circle cx="1049.1" cy="407.9" r="3.15"/>
<circle cx="1050.7" cy="405.0" r="3.15"/>
<circle cx="1051.9" cy="399.8" r="3.15"/>
<circle cx="1053.7" cy="396.8" r="3.15"/>
<circle cx="1055.0" cy="396.5" r="3.15"/>
<circle cx="1056.1" cy="397.0" r="3.15"/>
<circle cx="1057.6" cy="398.7" r="3.15"/>
<circle cx="1058.8" cy="399.3" r="3.15"/>
<circle cx="1060.1" cy="399.6" r="3.15"/>
<circle cx="1061.4" cy="399.6" r="3.15"/>
<circle cx="1062.9" cy="399.1" r="3.15"/>
<circle cx="1064.1" cy="394.8" r="3.15"/>
<circle cx="1065.9" cy="390.1" r="3.15"/>
<circle cx="1066.9" cy="384.6" r="3.15"/>
<circle cx="1068.2" cy="378.2" r="3.15"/>
<circle cx="1069.4" cy="368.6" r="3.15"/>
<circle cx="1071.3" cy="362.5" r="3.15"/>
<circle cx="1072.7" cy="357.2" r="3.15"/>
<circle cx="1074.1" cy="352.4" r="3.15"/>
<circle cx="1074.8" cy="349.1" r="3.15"/>
<circle cx="1076.4" cy="345.4" r="3.15"/>
<circle cx="1077.9" cy="342.5" r="3.15"/>
<circle cx="1079.5" cy="335.8" r="3.15"/>
<circle cx="1080.4" cy="324.3" r="3.15"/>
<circle cx="1082.0" cy="317.8" r="3.15"/>
<circle cx="1083.5" cy="311.3" r="3.15"/>
<circle cx="1084.3" cy="307.6" r="3.15"/>
<circle cx="1085.7" cy="303.3" r="3.15"/>
<circle cx="1087.7" cy="300.0" r="3.15"/>
<circle cx="1088.3" cy="298.8" r="3.15"/>
<circle cx="1089.7" cy="297.0" r="3.15"/>
<circle cx="1091.4" cy="295.8" r="3.15"/>
<circle cx="1093.0" cy="295.6" r="3.15"/>
<circle cx="1095.6" cy="290.8" r="3.15"/>
<circle cx="1096.6" cy="285.0" r="3.15"/>
<circle cx="1098.2" cy="279.8" r="3.15"/>
<circle cx="1099.4" cy="276.0" r="3.15"/>
<circle cx="1100.9" cy="271.0" r="3.15"/>
<circle cx="1102.3" cy="268.8" r="3.15"/>
<circle cx="1103.9" cy="267.2" r="3.15"/>
<circle cx="1105.2" cy="268.1" r="3.15"/>
<circle cx="1106.4" cy="267.7" r="3.15"/>
<circle cx="1108.0" cy="266.5" r="3.15"/>
<circle cx="1109.2" cy="262.5" r="3.15"/>
<circle cx="1110.7" cy="260.3" r="3.15"/>
<circle cx="1111.5" cy="259.9" r="3.15"/>
<circle cx="1112.8" cy="258.6" r="3.15"/>
<circle cx="1114.5" cy="259.2" r="3.15"/>
<circle cx="1115.7" cy="258.3" r="3.15"/>
<circle cx="1116.8" cy="260.5" r="3.15"/>
<circle cx="1118.3" cy="263.0" r="3.15"/>
<circle cx="1119.6" cy="264.4" r="3.15"/>
<circle cx="1121.1" cy="267.3" r="3.15"/>
<circle cx="1122.2" cy="271.4" r="3.15"/>
<circle cx="1123.6" cy="276.3" r="3.15"/>
<circle cx="1125.5" cy="283.3" r="3.15"/>
<circle cx="1126.8" cy="286.5" r="3.15"/>
<circle cx="1127.8" cy="287.1" r="3.15"/>
<circle cx="1129.1" cy="288.4" r="3.15"/>
<circle cx="1130.9" cy="287.7" r="3.15"/>
<circle cx="1132.1" cy="287.5" r="3.15"/>
<circle cx="1133.5" cy="286.7" r="3.15"/>
<circle cx="1134.5" cy="285.4" r="3.15"/>
<circle cx="1136.0" cy="285.4" r="3.15"/>
<circle cx="1137.6" cy="289.5" r="3.15"/>
<circle cx="1138.8" cy="292.7" r="3.15"/>
<circle cx="1140.5" cy="295.9" r="3.15"/>
<circle cx="1141.3" cy="299.8" r="3.15"/>
<circle cx="1142.9" cy="303.0" r="3.15"/>
<circle cx="1144.1" cy="305.0" r="3.15"/>
<circle cx="1145.8" cy="306.6" r="3.15"/>
<circle cx="1147.3" cy="308.4" r="3.15"/>
<circle cx="1148.6" cy="311.0" r="3.15"/>
<circle cx="1149.3" cy="311.9" r="3.15"/>
<circle cx="1150.9" cy="314.9" r="3.15"/>
<circle cx="1152.6" cy="316.5" r="3.15"/>
<circle cx="1153.7" cy="318.2" r="3.15"/>
<circle cx="1154.8" cy="320.9" r="3.15"/>
<circle cx="1156.7" cy="323.2" r="3.15"/>
<circle cx="1157.6" cy="323.0" r="3.15"/>
<circle cx="1159.1" cy="324.7" r="3.15"/>
<circle cx="1160.7" cy="325.7" r="3.15"/>
<circle cx="1162.0" cy="327.3" r="3.15"/>
<circle cx="1163.2" cy="329.7" r="3.15"/>
<circle cx="1164.2" cy="331.0" r="3.15"/>
<circle cx="1165.8" cy="332.6" r="3.15"/>
<circle cx="1167.4" cy="333.9" r="3.15"/>
<circle cx="1168.4" cy="336.6" r="3.15"/>
<circle cx="1170.4" cy="341.7" r="3.15"/>
<circle cx="1171.6" cy="345.7" r="3.15"/>
<circle cx="1173.0" cy="349.2" r="3.15"/>
<circle cx="1174.5" cy="353.6" r="3.15"/>
<circle cx="1175.6" cy="357.9" r="3.15"/>
<circle cx="1177.0" cy="361.1" r="3.15"/>
<circle cx="1178.4" cy="363.3" r="3.15"/>
<circle cx="1179.9" cy="365.5" r="3.15"/>
<circle cx="1180.6" cy="367.2" r="3.15"/>
<circle cx="1182.1" cy="370.5" r="3.15"/>
<circle cx="1183.7" cy="372.5" r="3.15"/>
<circle cx="1184.6" cy="376.1" r="3.15"/>
<circle cx="1186.1" cy="379.7" r="3.15"/>
<circle cx="1187.9" cy="383.2" r="3.15"/>
<circle cx="1188.9" cy="387.3" r="3.15"/>
<circle cx="1190.8" cy="386.7" r="3.15"/>
<circle cx="1192.1" cy="386.2" r="3.15"/>
<circle cx="1193.0" cy="385.5" r="3.15"/>
<circle cx="1194.7" cy="390.5" r="3.15"/>
<circle cx="1195.9" cy="391.5" r="3.15"/>
<circle cx="1197.5" cy="389.0" r="3.15"/>
<circle cx="1198.5" cy="385.3" r="3.15"/>
<circle cx="1199.7" cy="385.0" r="3.15"/>
<circle cx="1201.2" cy="385.8" r="3.15"/>
<circle cx="1202.6" cy="386.5" r="3.15"/>
<circle cx="1203.7" cy="387.7" r="3.15"/>
<circle cx="1205.6" cy="395.1" r="3.15"/>
<circle cx="1207.1" cy="399.4" r="3.15"/>
<circle cx="1208.1" cy="405.5" r="3.15"/>
<circle cx="1209.5" cy="413.0" r="3.15"/>
<circle cx="1210.9" cy="418.5" r="3.15"/>
<circle cx="1212.3" cy="425.9" r="3.15"/>
<circle cx="1213.2" cy="434.0" r="3.15"/>
<circle cx="1215.1" cy="440.3" r="3.15"/>
<circle cx="1216.3" cy="445.7" r="3.15"/>
<circle cx="1217.3" cy="459.7" r="3.15"/>
<circle cx="1219.1" cy="466.3" r="3.15"/>
<circle cx="1220.5" cy="470.1" r="3.15"/>
<circle cx="1221.7" cy="475.9" r="3.15"/>
<circle cx="1222.8" cy="482.1" r="3.15"/>
<circle cx="1224.5" cy="487.4" r="3.15"/>
<circle cx="1226.0" cy="489.7" r="3.15"/>
<circle cx="1227.1" cy="490.8" r="3.15"/>
<circle cx="1228.5" cy="489.7" r="3.15"/>
<circle cx="1229.5" cy="489.9" r="3.15"/>
<circle cx="1230.8" cy="491.6" r="3.15"/>
<circle cx="1232.2" cy="500.1" r="3.15"/>
<circle cx="1235.4" cy="509.6" r="3.15"/>
<circle cx="1236.7" cy="510.0" r="3.15"/>
<circle cx="1237.8" cy="510.4" r="3.15"/>
<circle cx="1239.5" cy="510.5" r="3.15"/>
<circle cx="1240.5" cy="511.7" r="3.15"/>
<circle cx="1241.9" cy="515.4" r="3.15"/>
<circle cx="1243.2" cy="518.3" r="3.15"/>
<circle cx="1245.0" cy="514.2" r="3.15"/>
<circle cx="1246.4" cy="510.3" r="3.15"/>
<circle cx="1247.1" cy="502.5" r="3.15"/>
<circle cx="1248.6" cy="498.6" r="3.15"/>
<circle cx="1250.1" cy="493.5" r="3.15"/>
<circle cx="1251.4" cy="466.0" r="3.15"/>
<circle cx="1254.2" cy="430.9" r="3.15"/>
<circle cx="1255.5" cy="413.2" r="3.15"/>
<circle cx="1256.9" cy="404.9" r="3.15"/>
<circle cx="1258.0" cy="395.9" r="3.15"/>
<circle cx="1259.7" cy="387.2" r="3.15"/>
<circle cx="1260.8" cy="382.3" r="3.15"/>
<circle cx="1262.1" cy="375.6" r="3.15"/>
<circle cx="1263.5" cy="373.6" r="3.15"/>
<circle cx="1265.1" cy="371.1" r="3.15"/>
<circle cx="1266.3" cy="369.7" r="3.15"/>
<circle cx="1268.1" cy="367.5" r="3.15"/>
<circle cx="1269.3" cy="368.1" r="3.15"/>
<circle cx="1270.7" cy="367.3" r="3.15"/>
<circle cx="1271.8" cy="367.3" r="3.15"/>
<circle cx="1273.3" cy="367.4" r="3.15"/>
<circle cx="1274.8" cy="368.5" r="3.15"/>
<circle cx="1275.8" cy="367.2" r="3.15"/>
<circle cx="1277.0" cy="366.2" r="3.15"/>
<circle cx="1278.6" cy="361.9" r="3.15"/>
<circle cx="1280.3" cy="361.2" r="3.15"/>
<circle cx="1281.6" cy="359.9" r="3.15"/>
<circle cx="1282.6" cy="358.6" r="3.15"/>
<circle cx="1284.3" cy="356.3" r="3.15"/>
<circle cx="1285.6" cy="351.1" r="3.15"/>
<circle cx="1286.4" cy="349.3" r="3.15"/>
<circle cx="1288.2" cy="345.9" r="3.15"/>
<circle cx="1289.8" cy="340.6" r="3.15"/>
<circle cx="1290.6" cy="332.1" r="3.15"/>
<circle cx="1292.3" cy="322.6" r="3.15"/>
<circle cx="1294.7" cy="300.3" r="3.15"/>
<circle cx="1296.4" cy="286.4" r="3.15"/>
<circle cx="1297.9" cy="272.4" r="3.15"/>
<circle cx="1299.2" cy="265.6" r="3.15"/>
<circle cx="1301.7" cy="256.7" r="3.15"/>
<circle cx="1302.7" cy="254.5" r="3.15"/>
<circle cx="1304.6" cy="249.2" r="3.15"/>
<circle cx="1305.5" cy="247.3" r="3.15"/>
<circle cx="1307.4" cy="247.3" r="3.15"/>
<circle cx="1308.4" cy="246.1" r="3.15"/>
<circle cx="1309.9" cy="244.6" r="3.15"/>
<circle cx="1311.1" cy="244.0" r="3.15"/>
<circle cx="1312.5" cy="244.5" r="3.15"/>
<circle cx="1314.9" cy="244.3" r="3.15"/>
<circle cx="1316.3" cy="246.1" r="3.15"/>
<circle cx="1317.8" cy="250.3" r="3.15"/>
<circle cx="1319.2" cy="253.7" r="3.15"/>
<circle cx="1321.1" cy="257.4" r="3.15"/>
<circle cx="1322.1" cy="262.6" r="3.15"/>
<circle cx="1323.6" cy="266.6" r="3.15"/>
<circle cx="1324.7" cy="270.0" r="3.15"/>
<circle cx="1326.4" cy="273.1" r="3.15"/>
<circle cx="1327.3" cy="279.7" r="3.15"/>
<circle cx="1328.9" cy="284.0" r="3.15"/>
<circle cx="1330.2" cy="288.1" r="3.15"/>
<circle cx="1331.4" cy="293.7" r="3.15"/>
<circle cx="1332.9" cy="297.6" r="3.15"/>
<circle cx="1334.1" cy="302.1" r="3.15"/>
<circle cx="1335.2" cy="306.9" r="3.15"/>
<circle cx="1336.9" cy="313.6" r="3.15"/>
<circle cx="1338.1" cy="319.8" r="3.15"/>
<circle cx="1339.5" cy="324.7" r="3.15"/>
<circle cx="1341.4" cy="331.7" r="3.15"/>
<circle cx="1342.5" cy="337.4" r="3.15"/>
<circle cx="1343.8" cy="343.2" r="3.15"/>
<circle cx="1345.3" cy="351.0" r="3.15"/>
<circle cx="1346.1" cy="357.5" r="3.15"/>
<circle cx="1347.7" cy="367.2" r="3.15"/>
<circle cx="1350.7" cy="390.4" r="3.15"/>
<circle cx="1351.7" cy="399.5" r="3.15"/>
<circle cx="1353.4" cy="408.9" r="3.15"/>
<circle cx="1355.0" cy="417.7" r="3.15"/>
<circle cx="1356.2" cy="423.1" r="3.15"/>
<circle cx="1357.1" cy="427.7" r="3.15"/>
<circle cx="1359.0" cy="428.0" r="3.15"/>
<circle cx="1359.8" cy="427.9" r="3.15"/>
<circle cx="1361.5" cy="424.6" r="3.15"/>
<circle cx="1362.6" cy="419.1" r="3.15"/>
<circle cx="1363.8" cy="413.7" r="3.15"/>
<circle cx="1365.5" cy="409.8" r="3.15"/>
<circle cx="1366.8" cy="405.6" r="3.15"/>
<circle cx="1368.3" cy="400.5" r="3.15"/>
<circle cx="1369.6" cy="394.9" r="3.15"/>
<circle cx="1370.6" cy="386.4" r="3.15"/>
<circle cx="1372.5" cy="379.0" r="3.15"/>
<circle cx="1373.6" cy="373.5" r="3.15"/>
<circle cx="1375.0" cy="369.9" r="3.15"/>
<circle cx="1376.2" cy="362.8" r="3.15"/>
<circle cx="1377.9" cy="354.0" r="3.15"/>
<circle cx="1378.9" cy="349.2" r="3.15"/>
<circle cx="1380.4" cy="342.0" r="3.15"/>
<circle cx="1382.1" cy="336.3" r="3.15"/>
<circle cx="1384.7" cy="331.7" r="3.15"/>
<circle cx="1385.6" cy="328.1" r="3.15"/>
<circle cx="1386.8" cy="326.1" r="3.15"/>
<circle cx="1388.6" cy="322.2" r="3.15"/>
<circle cx="1390.3" cy="319.4" r="3.15"/>
<circle cx="1391.0" cy="315.1" r="3.15"/>
<circle cx="1392.4" cy="312.4" r="3.15"/>
<circle cx="1393.8" cy="308.8" r="3.15"/>
<circle cx="1395.5" cy="308.7" r="3.15"/>
<circle cx="1396.7" cy="307.1" r="3.15"/>
<circle cx="1397.7" cy="307.7" r="3.15"/>
<circle cx="1399.5" cy="309.1" r="3.15"/>
<circle cx="1400.4" cy="309.3" r="3.15"/>
<circle cx="1402.5" cy="310.4" r="3.15"/>
<circle cx="1403.3" cy="311.9" r="3.15"/>
<circle cx="1404.8" cy="311.5" r="3.15"/>
<circle cx="1406.4" cy="313.5" r="3.15"/>
<circle cx="1408.0" cy="316.5" r="3.15"/>
<circle cx="1408.6" cy="322.0" r="3.15"/>
<circle cx="1410.1" cy="325.8" r="3.15"/>
<circle cx="1411.5" cy="327.8" r="3.15"/>
<circle cx="1413.3" cy="330.7" r="3.15"/>
<circle cx="1414.4" cy="334.9" r="3.15"/>
<circle cx="1416.0" cy="341.6" r="3.15"/>
<circle cx="1416.9" cy="349.7" r="3.15"/>
<circle cx="1418.2" cy="356.9" r="3.15"/>
<circle cx="1419.6" cy="362.4" r="3.15"/>
<circle cx="1421.5" cy="365.5" r="3.15"/>
<circle cx="1422.2" cy="369.6" r="3.15"/>
<circle cx="1423.6" cy="374.4" r="3.15"/>
<circle cx="1425.1" cy="377.5" r="3.15"/>
<circle cx="1426.9" cy="380.7" r="3.15"/>
<circle cx="1427.7" cy="383.1" r="3.15"/>
<circle cx="1428.9" cy="385.6" r="3.15"/>
<circle cx="1430.6" cy="392.4" r="3.15"/>
<circle cx="1433.6" cy="402.7" r="3.15"/>
<circle cx="1434.4" cy="404.6" r="3.15"/>
<circle cx="1436.2" cy="408.0" r="3.15"/>
<circle cx="1437.4" cy="410.2" r="3.15"/>
<circle cx="1438.8" cy="413.2" r="3.15"/>
<circle cx="1439.9" cy="417.5" r="3.15"/>
<circle cx="1441.7" cy="414.9" r="3.15"/>
<circle cx="1442.7" cy="411.5" r="3.15"/>
<circle cx="1444.2" cy="409.5" r="3.15"/>
<circle cx="1445.4" cy="408.4" r="3.15"/>
<circle cx="1447.0" cy="407.8" r="3.15"/>
<circle cx="1448.4" cy="409.8" r="3.15"/>
<circle cx="1449.8" cy="411.6" r="3.15"/>
<circle cx="1450.9" cy="408.4" r="3.15"/>
<circle cx="1452.2" cy="405.8" r="3.15"/>
<circle cx="1454.1" cy="400.5" r="3.15"/>
<circle cx="1455.4" cy="395.0" r="3.15"/>
<circle cx="1456.3" cy="391.5" r="3.15"/>
<circle cx="1457.5" cy="384.7" r="3.15"/>
<circle cx="1459.5" cy="379.0" r="3.15"/>
<circle cx="1460.3" cy="370.3" r="3.15"/>
<circle cx="1461.7" cy="365.7" r="3.15"/>
<circle cx="1464.6" cy="358.6" r="3.15"/>
<circle cx="1465.7" cy="354.9" r="3.15"/>
<circle cx="1467.2" cy="350.9" r="3.15"/>
<circle cx="1468.6" cy="343.9" r="3.15"/>
<circle cx="1469.8" cy="335.7" r="3.15"/>
<circle cx="1471.1" cy="327.3" r="3.15"/>
<circle cx="1473.0" cy="320.4" r="3.15"/>
<circle cx="1474.1" cy="316.5" r="3.15"/>
<circle cx="1475.1" cy="311.3" r="3.15"/>
<circle cx="1476.8" cy="304.8" r="3.15"/>
<circle cx="1477.9" cy="300.4" r="3.15"/>
<circle cx="1479.4" cy="296.3" r="3.15"/>
<circle cx="1481.2" cy="294.0" r="3.15"/>
<circle cx="1482.1" cy="290.9" r="3.15"/>
<circle cx="1483.3" cy="285.4" r="3.15"/>
<circle cx="1484.6" cy="278.7" r="3.15"/>
<circle cx="1486.3" cy="271.5" r="3.15"/>
<circle cx="1487.5" cy="257.9" r="3.15"/>
<circle cx="1488.9" cy="251.6" r="3.15"/>
<circle cx="1490.5" cy="243.2" r="3.15"/>
<circle cx="1491.6" cy="237.0" r="3.15"/>
<circle cx="1492.9" cy="234.9" r="3.15"/>
<circle cx="1494.0" cy="232.2" r="3.15"/>
<circle cx="1495.4" cy="229.6" r="3.15"/>
<circle cx="1496.9" cy="226.7" r="3.15"/>
<circle cx="1498.7" cy="218.8" r="3.15"/>
<circle cx="1500.1" cy="212.3" r="3.15"/>
<circle cx="1501.4" cy="208.0" r="3.15"/>
<circle cx="1502.2" cy="205.6" r="3.15"/>
<circle cx="1504.1" cy="202.1" r="3.15"/>
<circle cx="1505.4" cy="197.2" r="3.15"/>
<circle cx="1506.5" cy="194.9" r="3.15"/>
<circle cx="1507.7" cy="193.2" r="3.15"/>
<circle cx="1509.2" cy="192.5" r="3.15"/>
<circle cx="1510.4" cy="193.6" r="3.15"/>
<circle cx="1512.1" cy="198.3" r="3.15"/>
<circle cx="1513.6" cy="203.4" r="3.15"/>
<circle cx="1514.7" cy="208.8" r="3.15"/>
<circle cx="1516.1" cy="214.5" r="3.15"/>
<circle cx="1517.4" cy="220.9" r="3.15"/>
<circle cx="1519.1" cy="226.3" r="3.15"/>
<circle cx="1520.1" cy="227.6" r="3.15"/>
<circle cx="1521.6" cy="226.9" r="3.15"/>
<circle cx="1522.6" cy="228.6" r="3.15"/>
<circle cx="1524.5" cy="228.0" r="3.15"/>
<circle cx="1525.8" cy="228.2" r="3.15"/>
<circle cx="1527.1" cy="230.7" r="3.15"/>
<circle cx="1528.0" cy="233.3" r="3.15"/>
<circle cx="1529.8" cy="236.8" r="3.15"/>
<circle cx="1531.3" cy="241.9" r="3.15"/>
<circle cx="1532.4" cy="241.3" r="3.15"/>
<circle cx="1533.6" cy="242.0" r="3.15"/>
<circle cx="1534.9" cy="242.9" r="3.15"/>
<circle cx="1536.5" cy="244.5" r="3.15"/>
<circle cx="1537.7" cy="244.1" r="3.15"/>
<circle cx="1539.5" cy="245.4" r="3.15"/>
<circle cx="1540.2" cy="245.3" r="3.15"/>
<circle cx="1541.9" cy="247.5" r="3.15"/>
<circle cx="1543.2" cy="249.1" r="3.15"/>
<circle cx="1545.0" cy="252.7" r="3.15"/>
<circle cx="1545.8" cy="257.0" r="3.15"/>
<circle cx="1547.4" cy="259.7" r="3.15"/>
<circle cx="1548.9" cy="262.1" r="3.15"/>
<circle cx="1550.3" cy="264.7" r="3.15"/>
<circle cx="1551.8" cy="268.0" r="3.15"/>
<circle cx="1552.4" cy="268.5" r="3.15"/>
<circle cx="1553.8" cy="267.8" r="3.15"/>
<circle cx="1555.6" cy="267.9" r="3.15"/>
<circle cx="1556.9" cy="269.3" r="3.15"/>
<circle cx="1558.3" cy="275.1" r="3.15"/>
<circle cx="1559.3" cy="279.0" r="3.15"/>
<circle cx="1561.2" cy="287.0" r="3.15"/>
<circle cx="1561.9" cy="293.8" r="3.15"/>
<circle cx="1563.6" cy="296.5" r="3.15"/>
<circle cx="1565.3" cy="298.0" r="3.15"/>
<circle cx="1566.0" cy="299.2" r="3.15"/>
<circle cx="1568.0" cy="298.9" r="3.15"/>
<circle cx="1569.1" cy="297.8" r="3.15"/>
<circle cx="1570.1" cy="297.4" r="3.15"/>
<circle cx="1572.0" cy="298.1" r="3.15"/>
<circle cx="1573.5" cy="296.4" r="3.15"/>
<circle cx="1574.4" cy="297.5" r="3.15"/>
<circle cx="1575.9" cy="298.7" r="3.15"/>
<circle cx="1577.4" cy="299.4" r="3.15"/>
<circle cx="1578.2" cy="307.6" r="3.15"/>
<circle cx="1580.2" cy="313.3" r="3.15"/>
<circle cx="1581.3" cy="317.7" r="3.15"/>
<circle cx="1582.8" cy="323.7" r="3.15"/>
<circle cx="1583.7" cy="324.6" r="3.15"/>
<circle cx="1585.4" cy="325.0" r="3.15"/>
<circle cx="1586.4" cy="325.6" r="3.15"/>
<circle cx="1588.3" cy="325.6" r="3.15"/>
<circle cx="1589.0" cy="326.2" r="3.15"/>
<circle cx="1590.6" cy="327.6" r="3.15"/>
<circle cx="1591.8" cy="329.0" r="3.15"/>
<circle cx="1593.3" cy="329.9" r="3.15"/>
<circle cx="1595.1" cy="332.7" r="3.15"/>
<circle cx="1596.2" cy="333.4" r="3.15"/>
<circle cx="1597.8" cy="331.7" r="3.15"/>
<circle cx="1598.5" cy="331.3" r="3.15"/>
<circle cx="1600.4" cy="329.6" r="3.15"/>
<circle cx="1601.5" cy="326.9" r="3.15"/>
<circle cx="1602.7" cy="325.3" r="3.15"/>
<circle cx="1604.2" cy="322.9" r="3.15"/>
<circle cx="1605.7" cy="322.3" r="3.15"/>
<circle cx="1607.4" cy="319.1" r="3.15"/>
<circle cx="1608.4" cy="319.4" r="3.15"/>
<circle cx="1609.5" cy="321.3" r="3.15"/>
<circle cx="1611.0" cy="323.9" r="3.15"/>
<circle cx="1612.2" cy="324.5" r="3.15"/>
<circle cx="1614.1" cy="324.6" r="3.15"/>
<circle cx="1614.8" cy="325.5" r="3.15"/>
<circle cx="1616.8" cy="326.6" r="3.15"/>
<circle cx="1617.7" cy="326.1" r="3.15"/>
<circle cx="1619.1" cy="326.8" r="3.15"/>
<circle cx="1620.6" cy="325.9" r="3.15"/>
<circle cx="1621.6" cy="326.8" r="3.15"/>
<circle cx="1623.4" cy="327.7" r="3.15"/>
<circle cx="1624.3" cy="328.4" r="3.15"/>
<circle cx="1626.4" cy="331.7" r="3.15"/>
<circle cx="1627.6" cy="340.4" r="3.15"/>
<circle cx="1629.0" cy="354.3" r="3.15"/>
<circle cx="1629.7" cy="360.8" r="3.15"/>
<circle cx="1631.4" cy="366.2" r="3.15"/>
<circle cx="1633.0" cy="368.8" r="3.15"/>
<circle cx="1634.1" cy="373.3" r="3.15"/>
<circle cx="1635.3" cy="373.9" r="3.15"/>
<circle cx="1637.3" cy="373.2" r="3.15"/>
<circle cx="1638.3" cy="372.9" r="3.15"/>
<circle cx="1639.8" cy="371.8" r="3.15"/>
<circle cx="1641.1" cy="373.7" r="3.15"/>
<circle cx="1642.0" cy="377.7" r="3.15"/>
<circle cx="1643.4" cy="381.9" r="3.15"/>
<circle cx="1645.2" cy="390.5" r="3.15"/>
<circle cx="1646.8" cy="397.2" r="3.15"/>
<circle cx="1648.0" cy="405.0" r="3.15"/>
<circle cx="1649.1" cy="409.6" r="3.15"/>
<circle cx="1650.8" cy="420.4" r="3.15"/>
<circle cx="1651.9" cy="427.2" r="3.15"/>
<circle cx="1653.6" cy="435.5" r="3.15"/>
<circle cx="1654.8" cy="439.9" r="3.15"/>
<circle cx="1655.9" cy="444.6" r="3.15"/>
<circle cx="1657.6" cy="450.3" r="3.15"/>
<circle cx="1658.5" cy="455.2" r="3.15"/>
<circle cx="1660.1" cy="457.8" r="3.15"/>
<circle cx="1661.3" cy="459.9" r="3.15"/>
<circle cx="1663.0" cy="458.6" r="3.15"/>
<circle cx="1664.3" cy="457.7" r="3.15"/>
<circle cx="1668.1" cy="449.7" r="3.15"/>
<circle cx="1669.3" cy="446.1" r="3.15"/>
<circle cx="1671.1" cy="439.2" r="3.15"/>
<circle cx="1671.9" cy="435.7" r="3.15"/>
<circle cx="1673.5" cy="430.6" r="3.15"/>
<circle cx="1674.6" cy="425.5" r="3.15"/>
<circle cx="1676.5" cy="418.7" r="3.15"/>
<circle cx="1678.0" cy="414.4" r="3.15"/>
<circle cx="1679.3" cy="410.8" r="3.15"/>
<circle cx="1680.2" cy="408.2" r="3.15"/>
<circle cx="1681.7" cy="408.0" r="3.15"/>
<circle cx="1683.3" cy="408.6" r="3.15"/>
<circle cx="1684.0" cy="399.0" r="3.15"/>
<circle cx="1685.7" cy="395.0" r="3.15"/>
<circle cx="1687.0" cy="392.2" r="3.15"/>
<circle cx="1688.8" cy="386.9" r="3.15"/>
<circle cx="1690.2" cy="382.5" r="3.15"/>
<circle cx="1690.8" cy="375.3" r="3.15"/>
<circle cx="1692.9" cy="367.5" r="3.15"/>
<circle cx="1694.0" cy="363.0" r="3.15"/>
<circle cx="1695.4" cy="359.6" r="3.15"/>
<circle cx="1696.5" cy="356.3" r="3.15"/>
<circle cx="1698.2" cy="352.0" r="3.15"/>
<circle cx="1699.3" cy="348.0" r="3.15"/>
<circle cx="1700.9" cy="345.0" r="3.15"/>
<circle cx="1701.9" cy="342.2" r="3.15"/>
<circle cx="1703.7" cy="338.8" r="3.15"/>
<circle cx="1704.8" cy="336.7" r="3.15"/>
<circle cx="1706.3" cy="335.8" r="3.15"/>
<circle cx="1707.7" cy="338.5" r="3.15"/>
<circle cx="1708.8" cy="339.4" r="3.15"/>
<circle cx="1710.4" cy="344.0" r="3.15"/>
<circle cx="1711.9" cy="347.1" r="3.15"/>
<circle cx="1712.7" cy="349.3" r="3.15"/>
<circle cx="1714.5" cy="349.6" r="3.15"/>
<circle cx="1715.3" cy="347.9" r="3.15"/>
<circle cx="597.0" cy="253.0" r="3.15"/>
<circle cx="897.0" cy="630.0" r="3.15"/>
<circle cx="898.0" cy="633.0" r="3.15"/>
<circle cx="1236.0" cy="514.0" r="3.15"/>
<circle cx="1495.0" cy="223.0" r="3.15"/>
<circle cx="1589.0" cy="331.0" r="3.15"/>
<circle cx="501.0" cy="58.6" r="3.15"/>
<circle cx="192.5" cy="446.7" r="3.15"/>
<circle cx="197.0" cy="448.5" r="3.15"/>
<circle cx="198.5" cy="440.5" r="3.15"/>
<circle cx="194.0" cy="439.5" r="3.15"/>
<circle cx="163.0" cy="502.5" r="3.15"/>
<circle cx="167.5" cy="502.0" r="3.15"/>
<circle cx="854.0" cy="727.0" r="3.15"/>
<circle cx="859.0" cy="718.0" r="3.15"/>
<circle cx="857.0" cy="724.0" r="3.15"/>
<circle cx="861.0" cy="723.0" r="3.15"/>
<circle cx="863.0" cy="726.0" r="3.15"/>
<circle cx="878.0" cy="711.0" r="3.15"/>
<circle cx="881.0" cy="711.0" r="3.15"/>
<circle cx="849.0" cy="705.0" r="3.15"/>
<circle cx="595.0" cy="252.0" r="3.15"/>
<circle cx="598.0" cy="253.0" r="3.15"/>
<circle cx="600.5" cy="254.5" r="3.15"/>
<circle cx="603.0" cy="255.0" r="3.15"/>
<circle cx="605.5" cy="255.0" r="3.15"/>
<circle cx="594.0" cy="244.0" r="3.15"/>
<circle cx="596.0" cy="244.5" r="3.15"/>
<circle cx="598.5" cy="245.5" r="3.15"/>
<circle cx="601.0" cy="246.0" r="3.15"/>
<circle cx="553.0" cy="188.0" r="3.15"/>
<circle cx="556.0" cy="187.0" r="3.15"/>
<circle cx="550.0" cy="186.0" r="3.15"/>
<circle cx="558.0" cy="185.0" r="3.15"/>
<circle cx="1717.9" cy="329.0" r="3.15"/>
<circle cx="1719.0" cy="305.0" r="3.15"/>
<circle cx="1720.9" cy="286.9" r="3.15"/>
<circle cx="1721.9" cy="271.9" r="3.15"/>
<circle cx="1723.0" cy="260.0" r="3.15"/>
<circle cx="1724.4" cy="254.5" r="3.15"/>
<circle cx="1725.6" cy="249.8" r="3.15"/>
<circle cx="1726.9" cy="245.6" r="3.15"/>
<circle cx="1728.8" cy="242.5" r="3.15"/>
<circle cx="1730.6" cy="239.4" r="3.15"/>
<circle cx="1732.0" cy="242.0" r="3.15"/>
<circle cx="1733.8" cy="244.4" r="3.15"/>
<circle cx="1735.3" cy="245.6" r="3.15"/>
<circle cx="1736.9" cy="246.2" r="3.15"/>
<circle cx="1738.5" cy="246.0" r="3.15"/>
<circle cx="1740.0" cy="245.6" r="3.15"/>
<circle cx="1741.3" cy="244.4" r="3.15"/>
<circle cx="1742.5" cy="243.0" r="3.15"/>
<circle cx="1743.8" cy="241.5" r="3.15"/>
<circle cx="1745.0" cy="240.0" r="3.15"/>
<circle cx="1745.6" cy="226.2" r="3.15"/>
<circle cx="1748.0" cy="221.2" r="3.15"/>
<circle cx="1749.0" cy="209.0" r="3.15"/>
<circle cx="1750.0" cy="200.6" r="3.15"/>
<circle cx="1751.9" cy="189.0" r="3.15"/>
<circle cx="1753.5" cy="180.0" r="3.15"/>
<circle cx="1755.6" cy="185.6" r="3.15"/>
<circle cx="1757.0" cy="187.0" r="3.15"/>
<circle cx="1758.0" cy="187.5" r="3.15"/>
<circle cx="1760.0" cy="189.4" r="3.15"/>
<circle cx="1758.5" cy="191.2" r="3.15"/>
<circle cx="1761.0" cy="199.0" r="3.15"/>
<circle cx="1762.2" cy="207.2" r="3.15"/>
<circle cx="1764.0" cy="217.8" r="3.15"/>
<circle cx="1765.0" cy="224.4" r="3.15"/>
<circle cx="1766.9" cy="231.2" r="3.15"/>
<circle cx="1768.0" cy="210.6" r="3.15"/>
<circle cx="1769.4" cy="206.9" r="3.15"/>
<circle cx="1771.2" cy="202.5" r="3.15"/>
<circle cx="1772.5" cy="197.5" r="3.15"/>
<circle cx="1774.0" cy="193.0" r="3.15"/>
<circle cx="1775.0" cy="191.2" r="3.15"/>
<circle cx="1776.9" cy="193.0" r="3.15"/>
<circle cx="1778.8" cy="195.6" r="3.15"/>
<circle cx="1780.0" cy="207.2" r="3.15"/>
<circle cx="1781.9" cy="219.0" r="3.15"/>
<circle cx="1782.8" cy="228.0" r="3.15"/>
<circle cx="1784.0" cy="186.0" r="3.15"/>
<circle cx="1786.5" cy="179.0" r="3.15"/>
<circle cx="1788.0" cy="239.8" r="3.15"/>
<circle cx="1791.0" cy="258.0" r="3.15"/>
<circle cx="1790.0" cy="262.0" r="3.15"/>
<circle cx="1792.5" cy="264.4" r="3.15"/>
<circle cx="1794.0" cy="268.0" r="3.15"/>
<circle cx="1795.0" cy="275.0" r="3.15"/>
<circle cx="1796.0" cy="288.0" r="3.15"/>
<circle cx="1797.8" cy="307.0" r="3.15"/>
<circle cx="1799.4" cy="318.8" r="3.15"/>
<circle cx="1803.0" cy="317.0" r="3.15"/>
<circle cx="1801.2" cy="322.5" r="3.15"/>
<circle cx="1801.9" cy="326.2" r="3.15"/>
<circle cx="1806.0" cy="260.2" r="3.15"/>
<circle cx="1808.8" cy="243.0" r="3.15"/>
<circle cx="1810.0" cy="235.6" r="3.15"/>
<circle cx="1811.0" cy="229.4" r="3.15"/>
<circle cx="1813.0" cy="222.5" r="3.15"/>
<circle cx="1814.0" cy="215.9" r="3.15"/>
<circle cx="1816.0" cy="237.8" r="3.15"/>
<circle cx="1816.9" cy="246.2" r="3.15"/>
<circle cx="1817.9" cy="278.0" r="3.15"/>
<circle cx="1819.8" cy="304.0" r="3.15"/>
<circle cx="1821.0" cy="371.2" r="3.15"/>
<circle cx="1822.2" cy="376.5" r="3.15"/>
<circle cx="1824.0" cy="395.0" r="3.15"/>
<circle cx="1825.0" cy="420.0" r="3.15"/>
<circle cx="1826.2" cy="430.0" r="3.15"/>
<circle cx="1827.8" cy="452.2" r="3.15"/>
<circle cx="1829.0" cy="477.2" r="3.15"/>
<circle cx="1830.9" cy="512.9" r="3.15"/>
<circle cx="1831.5" cy="531.0" r="3.15"/>
<circle cx="1837.2" cy="529.8" r="3.15"/>
<circle cx="1832.5" cy="546.5" r="3.15"/>
<circle cx="1835.6" cy="546.9" r="3.15"/>
<circle cx="1838.8" cy="544.8" r="3.15"/>
<circle cx="1834.4" cy="556.9" r="3.15"/>
<circle cx="1840.0" cy="555.0" r="3.15"/>
<circle cx="1841.2" cy="587.2" r="3.15"/>
<circle cx="1848.1" cy="616.0" r="3.15"/>
<circle cx="1868.1" cy="555.0" r="3.15"/>
<circle cx="1867.1" cy="568.8" r="3.15"/>
<circle cx="1911.0" cy="520.5" r="3.15"/>
<circle cx="1911.9" cy="526.0" r="3.15"/>
<circle cx="1909.0" cy="534.6" r="3.15"/>
<circle cx="1905.0" cy="537.5" r="3.15"/>
<circle cx="1901.5" cy="539.8" r="3.15"/>
<circle cx="1907.5" cy="542.5" r="3.15"/>
<circle cx="1913.5" cy="543.0" r="3.15"/>
<circle cx="1901.0" cy="550.0" r="3.15"/>
<circle cx="1914.4" cy="556.9" r="3.15"/>
<circle cx="1915.2" cy="570.0" r="3.15"/>
<circle cx="1898.1" cy="575.0" r="3.15"/>
<circle cx="1900.0" cy="606.4" r="3.15"/>
<circle cx="1896.9" cy="609.4" r="3.15"/>
<circle cx="1866.0" cy="622.5" r="3.15"/>
<circle cx="1870.0" cy="626.2" r="3.15"/>
<circle cx="1842.8" cy="631.0" r="3.15"/>
<circle cx="1849.8" cy="636.0" r="3.15"/>
<circle cx="1895.0" cy="622.5" r="3.15"/>
<circle cx="1892.5" cy="623.0" r="3.15"/>
<circle cx="1889.4" cy="625.6" r="3.15"/>
<circle cx="1887.5" cy="628.0" r="3.15"/>
<circle cx="1883.8" cy="630.6" r="3.15"/>
<circle cx="1881.2" cy="633.0" r="3.15"/>
<circle cx="1878.8" cy="634.4" r="3.15"/>
<circle cx="1882.5" cy="636.2" r="3.15"/>
<circle cx="1885.0" cy="635.6" r="3.15"/>
<circle cx="1890.6" cy="632.5" r="3.15"/>
<circle cx="1893.8" cy="634.4" r="3.15"/>
<circle cx="1891.9" cy="643.0" r="3.15"/>
<circle cx="1876.9" cy="644.8" r="3.15"/>
<circle cx="1886.0" cy="647.9" r="3.15"/>
<circle cx="1878.0" cy="654.8" r="3.15"/>
<circle cx="1881.0" cy="654.8" r="3.15"/>
<circle cx="1864.0" cy="656.2" r="3.15"/>
<circle cx="1871.0" cy="658.0" r="3.15"/>
<circle cx="1843.8" cy="657.8" r="3.15"/>
<circle cx="1846.9" cy="661.2" r="3.15"/>
<circle cx="1875.0" cy="662.8" r="3.15"/>
<circle cx="1873.5" cy="668.0" r="3.15"/>
<circle cx="1851.0" cy="671.9" r="3.15"/>
<circle cx="1845.0" cy="675.0" r="3.15"/>
<circle cx="1862.9" cy="681.9" r="3.15"/>
<circle cx="1861.9" cy="697.0" r="3.15"/>
<circle cx="1860.6" cy="701.2" r="3.15"/>
<circle cx="1858.0" cy="705.0" r="3.15"/>
<circle cx="1856.0" cy="706.5" r="3.15"/>
<circle cx="1851.9" cy="707.2" r="3.15"/>
<circle cx="1856.2" cy="722.2" r="3.15"/>
<circle cx="1854.4" cy="738.8" r="3.15"/>
</g>
<g opacity="0.999">
<text x="191.6" y="769.6" font-size="19.8" text-anchor="middle" textLength="40" lengthAdjust="spacingAndGlyphs">170</text>
<text x="517.3" y="769.6" font-size="19.8" text-anchor="middle" textLength="40" lengthAdjust="spacingAndGlyphs">180</text>
<text x="843.0" y="769.6" font-size="19.8" text-anchor="middle" textLength="40" lengthAdjust="spacingAndGlyphs">190</text>
<text x="1168.7" y="769.6" font-size="19.8" text-anchor="middle" textLength="40" lengthAdjust="spacingAndGlyphs">200</text>
<text x="1494.4" y="769.6" font-size="19.8" text-anchor="middle" textLength="40" lengthAdjust="spacingAndGlyphs">210</text>
<text x="1820.1" y="769.6" font-size="19.8" text-anchor="middle" textLength="40" lengthAdjust="spacingAndGlyphs">220</text>
<text x="77.6" y="614.4" font-size="19.8" text-anchor="end" textLength="38.5" lengthAdjust="spacingAndGlyphs">990</text>
<text x="77.6" y="445.6" font-size="19.8" text-anchor="end" textLength="49.5" lengthAdjust="spacingAndGlyphs">1000</text>
<text x="77.6" y="276.9" font-size="19.8" text-anchor="end" textLength="49.5" lengthAdjust="spacingAndGlyphs">1010</text>
<text x="77.6" y="108.1" font-size="19.8" text-anchor="end" textLength="49.5" lengthAdjust="spacingAndGlyphs">1020</text>
<text y="47.5" font-size="24.0"><tspan x="584.5" textLength="246.1" lengthAdjust="spacingAndGlyphs">300234065627390:</tspan> <tspan x="842.9" textLength="112.2" lengthAdjust="spacingAndGlyphs">Removed</tspan> <tspan x="966.2" textLength="29.9" lengthAdjust="spacingAndGlyphs">BP</tspan> <tspan x="1012.0" textLength="78.6" lengthAdjust="spacingAndGlyphs">Values</tspan> <tspan x="1102.9" textLength="80.3" lengthAdjust="spacingAndGlyphs">(RED);</tspan> <tspan x="1192.9" textLength="77.7" lengthAdjust="spacingAndGlyphs">Level2</tspan> <tspan x="1282.8" textLength="31.8" lengthAdjust="spacingAndGlyphs">BP</tspan> <tspan x="1328.4" textLength="85.7" lengthAdjust="spacingAndGlyphs">(BLUE)</tspan></text>
<text y="795.0" font-size="19.6"><tspan x="939.1" textLength="35.7" lengthAdjust="spacingAndGlyphs">Day</tspan> <tspan x="984.1" textLength="19.7" lengthAdjust="spacingAndGlyphs">Of</tspan> <tspan x="1016.8" textLength="41.8" lengthAdjust="spacingAndGlyphs">Year</tspan></text>
<text transform="translate(9.8,398.3) rotate(-90)" font-size="19.8" text-anchor="middle" textLength="29.5" lengthAdjust="spacingAndGlyphs">BP</text>
</g>
</svg></body></html>
